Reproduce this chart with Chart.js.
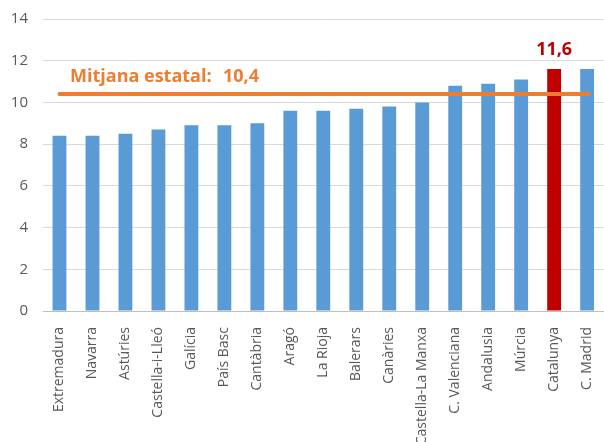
<!DOCTYPE html>
<html>
<head>
<meta charset="utf-8">
<script src="https://cdn.jsdelivr.net/npm/chart.js@4/dist/chart.umd.min.js"></script>
<style>
  html, body { margin: 0; padding: 0; overflow: hidden; background: #fff; }
  #wrap { width: 604px; height: 442px; overflow: hidden; }
</style>
</head>
<body>
<div id="wrap"><canvas id="chart" width="612" height="470"></canvas></div>
<script>
const regions = [
    'Extremadura', 'Navarra', 'Astúries', 'Castella-i-Lleó', 'Galícia', 'País Basc',
    'Cantàbria', 'Aragó', 'La Rioja', 'Balerars', 'Canàries', 'Castella-La Manxa',
    'C. Valenciana', 'Andalusia', 'Múrcia', 'Catalunya', 'C. Madrid'
];
const values = [8.4, 8.4, 8.5, 8.7, 8.9, 8.9, 9.0, 9.6, 9.6, 9.7, 9.8, 10.0, 10.8, 10.9, 11.1, 11.6, 11.6];
const highlight = 'Catalunya';
const meanValue = 10.4;
const meanLabel = 'Mitjana estatal:';
const yTicks = [0, 2, 4, 6, 8, 10, 12, 14];

const blue = '#5B9BD5';
const red = '#C00000';
const orange = '#ED7D31';
const fmt = v => v.toFixed(1).replace('.', ',');

const labelsPlugin = {
    id: 'labels',
    afterDatasetsDraw(chart) {
        const ctx = chart.ctx;
        const y = chart.scales.y;
        const bars = chart.getDatasetMeta(0).data;
        const idx = regions.indexOf(highlight);
        ctx.save();
        ctx.font = 'bold 18px "Open Sans"';
        ctx.textAlign = 'center';
        ctx.textBaseline = 'middle';
        ctx.fillStyle = red;
        ctx.fillText(fmt(values[idx]), bars[idx].x, bars[idx].y - 19);

        ctx.fillStyle = orange;
        ctx.textAlign = 'left';
        const ly = y.getPixelForValue(meanValue) - 17;
        ctx.fillText(meanLabel, chart.chartArea.left + 27, ly);
        ctx.fillText(fmt(meanValue), chart.chartArea.left + 180, ly);
        ctx.restore();
    }
};

new Chart(document.getElementById('chart'), {
    type: 'bar',
    data: {
        labels: regions,
        datasets: [{
            data: values,
            backgroundColor: regions.map(r => r === highlight ? red : blue),
            barPercentage: 0.42,
            categoryPercentage: 1,
            grouped: false,
            order: 2
        }, {
            type: 'line',
            xAxisID: 'x2',
            data: [{ x: 0, y: meanValue }, { x: 16.05, y: meanValue }],
            borderColor: orange,
            borderWidth: 4,
            borderCapStyle: 'round',
            pointRadius: 0,
            order: 1
        }]
    },
    options: {
        responsive: false,
        animation: false,
        layout: { padding: { top: 19, right: 3 } },
        plugins: { legend: { display: false }, tooltip: { enabled: false } },
        scales: {
            y: {
                min: 0,
                max: 14,
                afterBuildTicks: s => { s.ticks = yTicks.map(v => ({ value: v })); },
                afterFit: s => { s.width = 43; s.paddingTop = 0; s.paddingBottom = 0; },
                border: { display: false },
                grid: { color: '#D9D9D9', drawTicks: false },
                ticks: { color: '#595959', font: { size: 15, family: 'Open Sans' }, padding: 15 }
            },
            x: {
                afterFit: s => { s.height = 159; },
                border: { color: '#BFBFBF' },
                grid: { display: false },
                ticks: {
                    color: '#595959',
                    font: { size: 14, family: 'Open Sans' },
                    minRotation: 90,
                    maxRotation: 90,
                    autoSkip: false,
                    padding: 8
                }
            },
            x2: {
                type: 'linear',
                display: false,
                offset: false,
                min: -0.5,
                max: 16.5
            }
        }
    },
    plugins: [labelsPlugin]
});
</script>
</body>
</html>
